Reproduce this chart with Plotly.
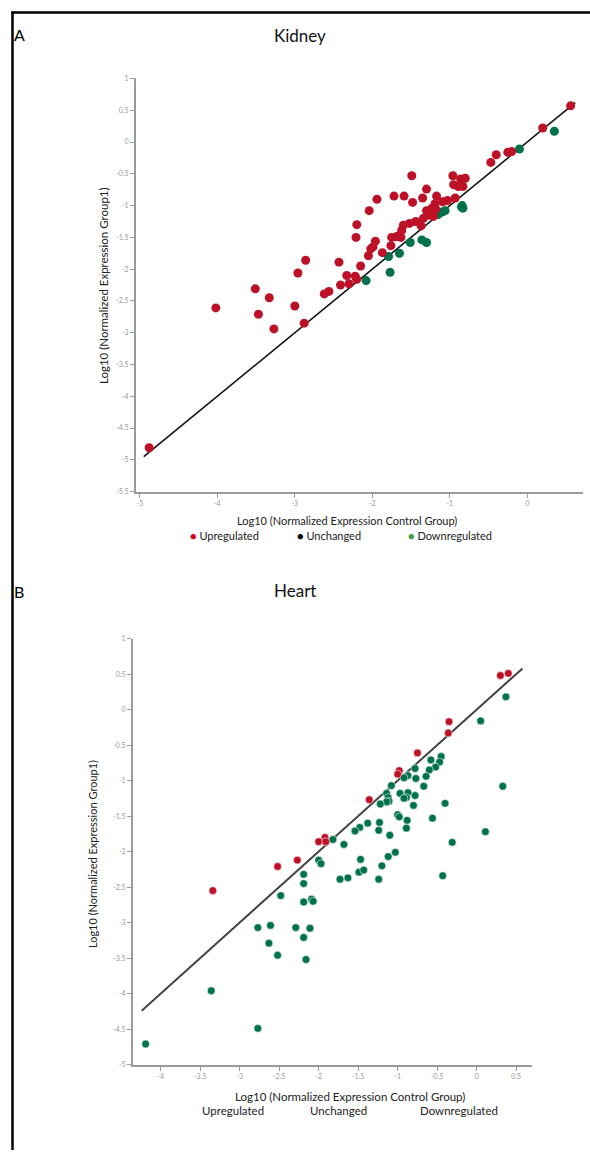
import plotly.graph_objects as go

W, H = 590, 1153

# ---------------- Panel A: Kidney ----------------
kid_up_x = [0.56, 0.20, -0.47, -0.40, -0.25, -0.20,
            -0.96, -0.86, -0.80, -0.95, -0.89, -0.83, -0.93, -1.03, -1.09, -1.17, -1.19,
            -1.30, -1.35, -1.49, -1.59, -1.72, -1.48, -1.94, -2.04,
            -1.30, -1.23, -1.25, -1.18, -1.27, -1.21, -1.34, -1.37, -1.44, -1.52, -1.60, -1.62,
            -1.69, -1.63, -1.75, -1.67,
            -1.76, -1.87, -2.05, -1.96, -1.99, -2.02, -2.20, -2.21, -2.15, -2.43, -2.86, -2.96,
            -2.33, -2.22, -2.20, -2.30, -2.41, -2.56, -2.62, -3.51, -3.33, -4.02, -3.47, -3.00,
            -2.88, -3.27, -4.88]
kid_up_y = [0.57, 0.22, -0.32, -0.20, -0.16, -0.15,
            -0.53, -0.58, -0.57, -0.67, -0.70, -0.70, -0.88, -0.92, -0.94, -0.85, -0.97,
            -0.74, -0.88, -0.53, -0.85, -0.85, -0.95, -0.90, -1.08,
            -1.08, -1.04, -1.11, -1.06, -1.15, -1.17, -1.20, -1.32, -1.25, -1.28, -1.31, -1.39,
            -1.49, -1.50, -1.50, -1.48,
            -1.63, -1.74, -1.79, -1.56, -1.65, -1.68, -1.30, -1.50, -1.95, -1.89, -1.86, -2.06,
            -2.10, -2.11, -2.16, -2.23, -2.25, -2.35, -2.39, -2.31, -2.45, -2.61, -2.71, -2.58,
            -2.85, -2.94, -4.81]
kid_down_x = [0.35, -0.10, -0.84, -0.83, -0.85, -1.06, -1.10, -1.15, -1.30, -1.36, -1.51,
              -1.65, -1.79, -1.77, -2.08]
kid_down_y = [0.17, -0.11, -1.00, -1.04, -1.02, -1.08, -1.10, -1.14, -1.58, -1.54, -1.58,
              -1.75, -1.80, -2.05, -2.18]
kid_line = [-4.95, 0.62]

kid_xticks = [-5, -4, -3, -2, -1, 0]
kid_xtext = ["-5", "-4", "-3", "-2", "-1", "0"]
kid_yticks = [1, 0.5, 0, -0.5, -1, -1.5, -2, -2.5, -3, -3.5, -4, -4.5, -5, -5.5]
kid_ytext = ["1", "0.5", "0", "-0.5", "-1", "-1.5", "-2", "-2.5", "-3", "-3.5", "-4", "-4.5", "-5", "-5.5"]

# ---------------- Panel B: Heart ----------------
hrt_up_x = [0.30, 0.40, -0.35, -0.36, -0.75, -0.98, -1.00, -1.36, -1.92, -2.00, -1.91,
            -2.27, -2.52, -3.34]
hrt_up_y = [0.48, 0.51, -0.17, -0.33, -0.61, -0.86, -0.91, -1.27, -1.80, -1.86, -1.86,
            -2.12, -2.21, -2.55]
hrt_down_x = [0.37, 0.05, 0.33, 0.11, -0.31, -0.40, -0.56,
              -0.45, -0.47, -0.52, -0.58, -0.60, -0.64, -0.67,
              -0.78, -0.77, -0.87, -0.92, -0.78, -0.80,
              -1.08, -0.97, -0.87, -0.89, -0.92,
              -1.14, -1.12, -1.11, -1.14, -1.22,
              -1.00, -0.98, -0.88, -0.89, -1.10, -1.23, -1.24, -1.38, -1.48, -1.54, -1.68, -1.82,
              -2.00, -1.97, -2.19, -2.19, -2.48, -2.19, -2.09, -2.07, -1.73, -1.63, -1.47, -1.49,
              -1.43, -1.24, -1.20, -1.12, -1.03, -0.43,
              -2.77, -2.61, -2.63, -2.52, -2.29, -2.19, -2.11, -2.16, -3.36, -2.77, -4.19]
hrt_down_y = [0.18, -0.16, -1.08, -1.72, -1.87, -1.32, -1.53,
              -0.66, -0.74, -0.81, -0.71, -0.85, -0.94, -1.08,
              -0.83, -0.97, -0.93, -0.96, -1.21, -1.35,
              -1.07, -1.18, -1.17, -1.24, -1.25,
              -1.18, -1.24, -1.29, -1.30, -1.33,
              -1.48, -1.51, -1.56, -1.67, -1.77, -1.59, -1.70, -1.60, -1.66, -1.71, -1.90, -1.83,
              -2.12, -2.17, -2.32, -2.45, -2.62, -2.71, -2.67, -2.70, -2.39, -2.37, -2.11, -2.29,
              -2.26, -2.39, -2.20, -2.07, -2.01, -2.34,
              -3.07, -3.04, -3.29, -3.46, -3.07, -3.21, -3.08, -3.52, -3.96, -4.49, -4.71]
hrt_line = [-4.24, 0.58]

hrt_xticks = [-4, -3.5, -3, -2.5, -2, -1.5, -1, -0.5, 0, 0.5]
hrt_xtext = ["-4", "-3.5", "-3", "-2.5", "-2", "-1.5", "-1", "-0.5", "0", "0.5"]
hrt_yticks = [1, 0.5, 0, -0.5, -1, -1.5, -2, -2.5, -3, -3.5, -4, -4.5, -5]
hrt_ytext = ["1", "0.5", "0", "-0.5", "-1", "-1.5", "-2", "-2.5", "-3", "-3.5", "-4", "-4.5", "-5"]

legend_labels = ["Upregulated", "Unchanged", "Downregulated"]
legend_colors = ["#d0021b", "#000000", "#4a9a3e"]

RED = "#bd1128"
GREEN = "#00714a"
FONT = "Lato, Open Sans, sans-serif"


def px(x):
    return x / W


def py(y):
    return 1 - y / H


fig = go.Figure()

# Panel A traces
fig.add_trace(go.Scatter(x=kid_line, y=kid_line, mode="lines",
                         line=dict(color="#111111", width=1.6),
                         xaxis="x", yaxis="y", showlegend=False, hoverinfo="skip"))
fig.add_trace(go.Scatter(x=kid_down_x, y=kid_down_y, mode="markers",
                         marker=dict(color=GREEN, size=9, line=dict(width=0)),
                         xaxis="x", yaxis="y", showlegend=False, name="Downregulated"))
fig.add_trace(go.Scatter(x=kid_up_x, y=kid_up_y, mode="markers",
                         marker=dict(color=RED, size=9, line=dict(width=0)),
                         xaxis="x", yaxis="y", showlegend=False, name="Upregulated"))

# Panel B traces
fig.add_trace(go.Scatter(x=hrt_line, y=hrt_line, mode="lines",
                         line=dict(color="#444444", width=2),
                         xaxis="x2", yaxis="y2", showlegend=False, hoverinfo="skip"))
fig.add_trace(go.Scatter(x=hrt_down_x, y=hrt_down_y, mode="markers",
                         marker=dict(color=GREEN, size=7.8,
                                     line=dict(width=0.8, color="rgba(255,255,255,0.7)")),
                         xaxis="x2", yaxis="y2", showlegend=False, name="Downregulated"))
fig.add_trace(go.Scatter(x=hrt_up_x, y=hrt_up_y, mode="markers",
                         marker=dict(color=RED, size=7.8,
                                     line=dict(width=0.8, color="rgba(255,255,255,0.7)")),
                         xaxis="x2", yaxis="y2", showlegend=False, name="Upregulated"))

axis_common = dict(showgrid=False, zeroline=False, showline=True, linecolor="#9a9a9a",
                   linewidth=2, ticks="outside", ticklen=4, tickwidth=1, tickcolor="#9a9a9a",
                   tickfont=dict(size=7, color="#999999", family=FONT), fixedrange=True)

fig.update_layout(
    width=W, height=H,
    margin=dict(l=0, r=0, t=0, b=0),
    paper_bgcolor="white", plot_bgcolor="white",
    showlegend=False,
    font=dict(family=FONT, color="#222222"),
    xaxis=dict(domain=[px(136), px(583)], range=[-5.05, 0.72], anchor="y",
               tickvals=kid_xticks, ticktext=kid_xtext, **axis_common),
    yaxis=dict(domain=[py(490), py(74)], range=[-5.5, 1], anchor="x",
               tickvals=kid_yticks, ticktext=kid_ytext, **axis_common),
    xaxis2=dict(domain=[px(133), px(532)], range=[-4.35, 0.70], anchor="y2",
                tickvals=hrt_xticks, ticktext=hrt_xtext, **axis_common),
    yaxis2=dict(domain=[py(1067), py(638)], range=[-5, 1], anchor="x2",
                tickvals=hrt_yticks, ticktext=hrt_ytext, **axis_common),
)

ann = []


def add_text(text, x, y, size, angle=0, color="#222222", xanchor="center"):
    ann.append(dict(text=text, x=px(x), y=py(y), xref="paper", yref="paper",
                    showarrow=False, xanchor=xanchor, yanchor="middle",
                    textangle=angle, font=dict(size=size, color=color, family=FONT)))


# Panel labels and titles
add_text("A", 12, 30, 16, xanchor="left", color="#000000")
add_text("Kidney", 300, 31, 17, color="#111111")
add_text("B", 12, 591, 16, xanchor="left", color="#000000")
add_text("Heart", 295, 590, 17, color="#111111")

# Axis titles
add_text("Log10 (Normalized Expression Group1)", 103, 283, 11.5, angle=-90)
add_text("Log10 (Normalized Expression Control Group)", 347, 519, 11)
add_text("Log10 (Normalized Expression Group1)", 92, 855, 11, angle=-90)
add_text("Log10 (Normalized Expression Control Group)", 350, 1099, 11.5)

# Legend A (coloured bullet + label)
leg_a_x = [188, 295, 406]
for lab, col, lx in zip(legend_labels, legend_colors, leg_a_x):
    add_text('<span style="color:%s">●</span> %s' % (col, lab), lx, 534, 11,
             xanchor="left")

# Legend B (text only)
leg_b_x = [233, 338, 459]
for lab, lx in zip(legend_labels, leg_b_x):
    add_text(lab, lx, 1113, 11.5)

fig.update_layout(annotations=ann)

# Outer frame (left and top borders)
fig.update_layout(shapes=[
    dict(type="line", xref="paper", yref="paper", x0=px(12.5), x1=px(12.5), y0=py(6.5), y1=py(H),
         line=dict(color="black", width=2.5)),
    dict(type="line", xref="paper", yref="paper", x0=px(11.3), x1=px(W), y0=py(7.5), y1=py(7.5),
         line=dict(color="black", width=2.5)),
])

fig.write_html("out.html",
               config={"displayModeBar": False},
               post_script="document.body.style.margin='0';document.body.style.overflow='hidden';")
